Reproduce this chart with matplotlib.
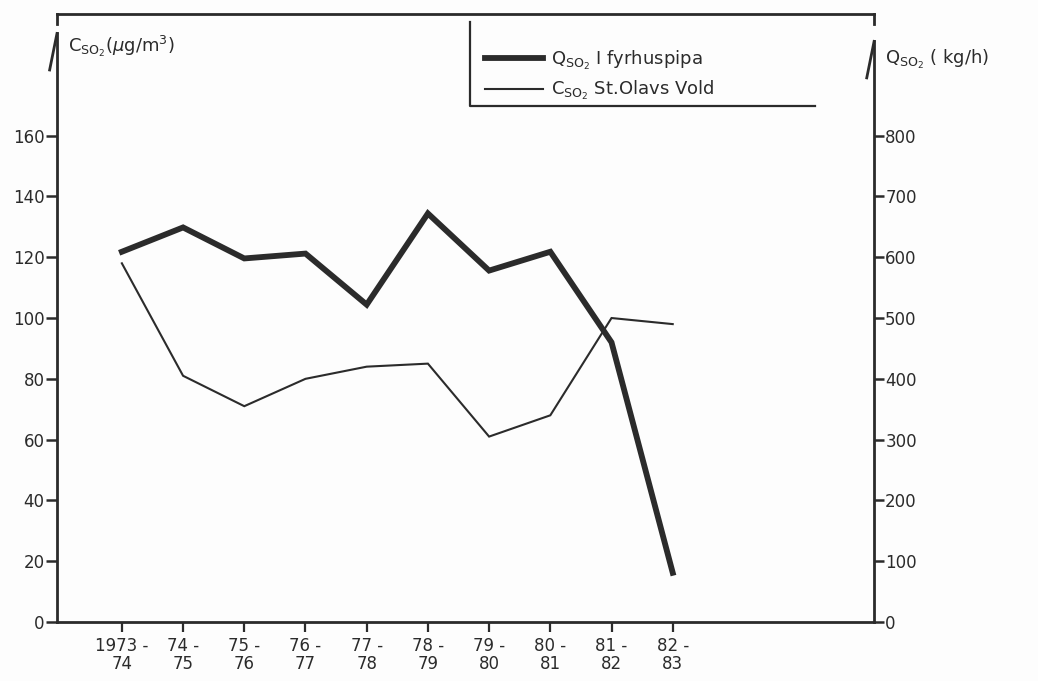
import matplotlib.pyplot as plt
import numpy as np

# SO2 from the district heating stack vs. measured SO2 at St. Olavs Vold
seasons = ["1973 -\n74", "74 -\n75", "75 -\n76", "76 -\n77", "77 -\n78",
           "78 -\n79", "79 -\n80", "80 -\n81", "81 -\n82", "82 -\n83"]
q_so2 = [609, 649, 598, 606, 522, 672, 578, 609, 460, 81]    # kg/h
c_so2 = [118, 81, 71, 80, 84, 85, 61, 68, 100, 98]           # ug/m3

left_ticks = np.arange(0, 161, 20)
right_ticks = np.arange(0, 801, 100)

ink = "#2b2b2b"
plt.rcParams.update({
    "font.family": "DejaVu Sans",
    "font.size": 12,
    "mathtext.fontset": "dejavusans",
    "text.color": ink,
    "axes.edgecolor": ink,
    "xtick.color": ink,
    "ytick.color": ink,
})

fig = plt.figure(figsize=(10.38, 6.81), dpi=100, facecolor="#fdfdfd")
ax = fig.add_axes([0.0549, 0.0866, 0.7872, 0.8928])
ax.set_facecolor("none")
ax2 = ax.twinx()

x = np.arange(len(seasons))
thin, = ax.plot(x, c_so2, color=ink, lw=1.5, solid_joinstyle="miter",
                label=r"C$_{\mathrm{SO_2}}$ St.Olavs Vold")
thick, = ax2.plot(x, q_so2, color=ink, lw=4.2, solid_joinstyle="miter",
                  label=r"Q$_{\mathrm{SO_2}}$ I fyrhuspipa")

ax.set_xlim(-1.06, 12.29)
ax.set_ylim(0, 200)
ax2.set_ylim(0, 1000)

ax.set_xticks(x)
ax.set_xticklabels(seasons, linespacing=1.0)
ax.set_yticks(left_ticks)
ax2.set_yticks(right_ticks)

ax.tick_params(axis="x", direction="out", length=7, width=1.6, pad=4)
ax.tick_params(axis="y", direction="out", length=8, width=1.8, pad=1)
ax2.tick_params(axis="y", direction="out", length=7, width=1.8, pad=1)

# frame: top line with short stubs, axes stop below the stubs at the arrows
for a in (ax, ax2):
    for s in a.spines.values():
        s.set_linewidth(2.0)
ax.spines["right"].set_visible(False)
ax2.spines["left"].set_visible(False)
ax2.spines["top"].set_visible(False)
ax2.spines["bottom"].set_visible(False)
ax.spines["left"].set_bounds(0, 193.6)
ax2.spines["right"].set_bounds(0, 955)

tr = ax.transAxes
for xe in (0, 1):
    ax.plot([xe, xe], [1.0, 0.984], color=ink, lw=2.0, transform=tr, clip_on=False)
left_tip = 0.968
right_tip = 0.955
ax.plot([0, -0.009], [left_tip, left_tip - 0.06], color=ink, lw=2.0,
        transform=tr, clip_on=False)
ax.plot([1, 0.991], [right_tip, right_tip - 0.06], color=ink, lw=2.0,
        transform=tr, clip_on=False)

# axis titles
ax.text(0.013, 0.946, r"C$_{\mathrm{SO_2}}$($\mu$g/m$^3$)", transform=tr,
        ha="left", va="center", fontsize=13)
ax.text(1.013, 0.925, r"Q$_{\mathrm{SO_2}}$ ( kg/h)", transform=tr,
        ha="left", va="center", fontsize=13)

# legend with only a left and bottom border
ax2.legend(handles=[thick, thin], loc="upper left",
           bbox_to_anchor=(0.524, 0.943), frameon=False, fontsize=13,
           handlelength=3.2, handletextpad=0.45, labelspacing=0.4,
           borderaxespad=0, borderpad=0)
ax.plot([0.5055, 0.5055, 0.928], [0.987, 0.849, 0.849], color=ink, lw=1.6,
        transform=tr, clip_on=False)

fig.savefig("out.png", dpi=100, facecolor=fig.get_facecolor())
